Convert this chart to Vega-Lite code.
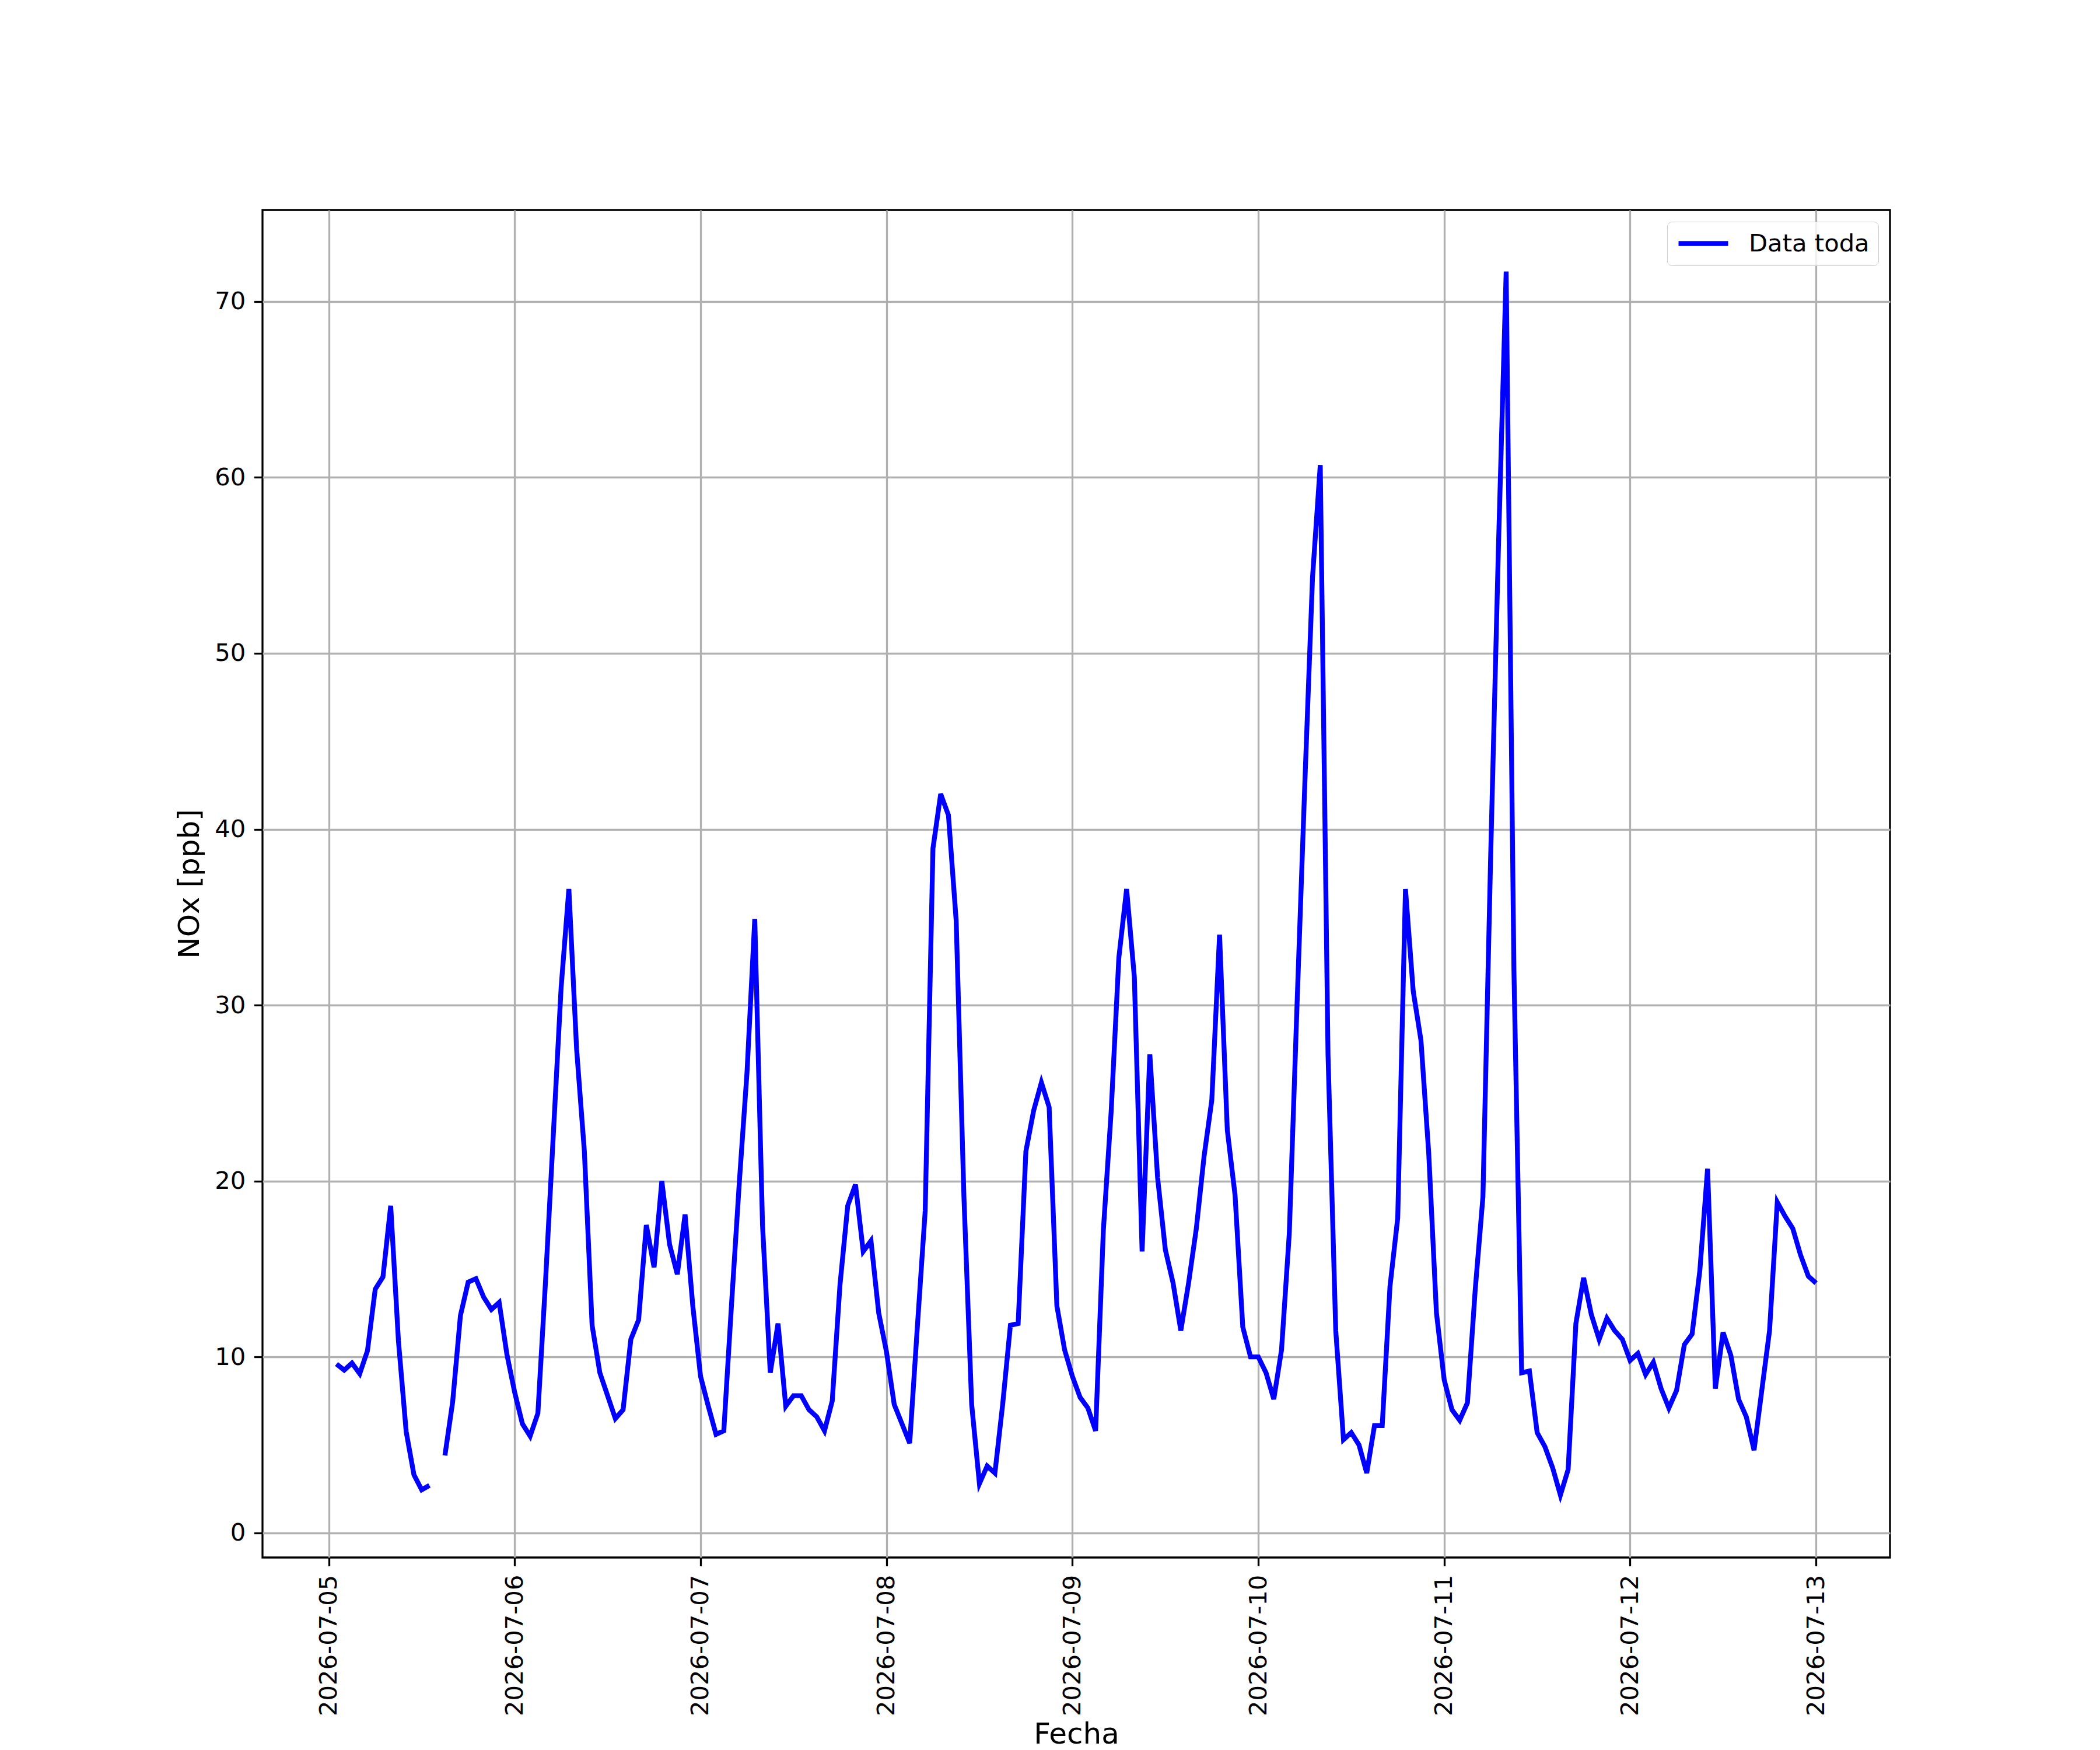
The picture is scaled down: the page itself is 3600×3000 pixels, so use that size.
{
  "$schema": "https://vega.github.io/schema/vega-lite/v6.json",
  "width": 2790,
  "height": 2310,
  "autosize": {"type": "none"},
  "padding": {"left": 450, "top": 360, "right": 360, "bottom": 330},
  "background": "white",
  "data": {"values": [
    {"t":"2026-07-05T01:00:00","v":9.6},{"t":"2026-07-05T02:00:00","v":9.25},{"t":"2026-07-05T03:00:00","v":9.65},{"t":"2026-07-05T04:00:00","v":9.05},{"t":"2026-07-05T05:00:00","v":10.35},{"t":"2026-07-05T06:00:00","v":13.85},{"t":"2026-07-05T07:00:00","v":14.55},{"t":"2026-07-05T08:00:00","v":18.6},{"t":"2026-07-05T09:00:00","v":10.9},{"t":"2026-07-05T10:00:00","v":5.75},{"t":"2026-07-05T11:00:00","v":3.3},{"t":"2026-07-05T12:00:00","v":2.45},{"t":"2026-07-05T13:00:00","v":2.7},{"t":"2026-07-05T14:00:00","v":null},{"t":"2026-07-05T15:00:00","v":4.4},{"t":"2026-07-05T16:00:00","v":7.45},{"t":"2026-07-05T17:00:00","v":12.35},{"t":"2026-07-05T18:00:00","v":14.25},{"t":"2026-07-05T19:00:00","v":14.45},{"t":"2026-07-05T20:00:00","v":13.4},{"t":"2026-07-05T21:00:00","v":12.7},{"t":"2026-07-05T22:00:00","v":13.1},{"t":"2026-07-05T23:00:00","v":10.15},
    {"t":"2026-07-06T00:00:00","v":8.0},{"t":"2026-07-06T01:00:00","v":6.2},{"t":"2026-07-06T02:00:00","v":5.5},{"t":"2026-07-06T03:00:00","v":6.8},{"t":"2026-07-06T04:00:00","v":14.4},{"t":"2026-07-06T05:00:00","v":22.7},{"t":"2026-07-06T06:00:00","v":31.0},{"t":"2026-07-06T07:00:00","v":36.6},{"t":"2026-07-06T08:00:00","v":27.5},{"t":"2026-07-06T09:00:00","v":21.7},{"t":"2026-07-06T10:00:00","v":11.8},{"t":"2026-07-06T11:00:00","v":9.1},{"t":"2026-07-06T12:00:00","v":7.8},{"t":"2026-07-06T13:00:00","v":6.5},{"t":"2026-07-06T14:00:00","v":7.0},{"t":"2026-07-06T15:00:00","v":11.0},{"t":"2026-07-06T16:00:00","v":12.1},{"t":"2026-07-06T17:00:00","v":17.5},{"t":"2026-07-06T18:00:00","v":15.1},{"t":"2026-07-06T19:00:00","v":20.0},{"t":"2026-07-06T20:00:00","v":16.4},{"t":"2026-07-06T21:00:00","v":14.7},{"t":"2026-07-06T22:00:00","v":18.1},{"t":"2026-07-06T23:00:00","v":12.9},
    {"t":"2026-07-07T00:00:00","v":8.9},{"t":"2026-07-07T01:00:00","v":7.2},{"t":"2026-07-07T02:00:00","v":5.6},{"t":"2026-07-07T03:00:00","v":5.8},{"t":"2026-07-07T04:00:00","v":13.0},{"t":"2026-07-07T05:00:00","v":19.9},{"t":"2026-07-07T06:00:00","v":26.2},{"t":"2026-07-07T07:00:00","v":34.9},{"t":"2026-07-07T08:00:00","v":17.5},{"t":"2026-07-07T09:00:00","v":9.1},{"t":"2026-07-07T10:00:00","v":11.9},{"t":"2026-07-07T11:00:00","v":7.2},{"t":"2026-07-07T12:00:00","v":7.8},{"t":"2026-07-07T13:00:00","v":7.8},{"t":"2026-07-07T14:00:00","v":7.0},{"t":"2026-07-07T15:00:00","v":6.6},{"t":"2026-07-07T16:00:00","v":5.8},{"t":"2026-07-07T17:00:00","v":7.5},{"t":"2026-07-07T18:00:00","v":14.1},{"t":"2026-07-07T19:00:00","v":18.6},{"t":"2026-07-07T20:00:00","v":19.8},{"t":"2026-07-07T21:00:00","v":16.0},{"t":"2026-07-07T22:00:00","v":16.6},{"t":"2026-07-07T23:00:00","v":12.5},
    {"t":"2026-07-08T00:00:00","v":10.3},{"t":"2026-07-08T01:00:00","v":7.3},{"t":"2026-07-08T02:00:00","v":6.2},{"t":"2026-07-08T03:00:00","v":5.1},{"t":"2026-07-08T04:00:00","v":11.8},{"t":"2026-07-08T05:00:00","v":18.3},{"t":"2026-07-08T06:00:00","v":38.9},{"t":"2026-07-08T07:00:00","v":42.0},{"t":"2026-07-08T08:00:00","v":40.8},{"t":"2026-07-08T09:00:00","v":34.8},{"t":"2026-07-08T10:00:00","v":19.1},{"t":"2026-07-08T11:00:00","v":7.3},{"t":"2026-07-08T12:00:00","v":2.8},{"t":"2026-07-08T13:00:00","v":3.8},{"t":"2026-07-08T14:00:00","v":3.4},{"t":"2026-07-08T15:00:00","v":7.3},{"t":"2026-07-08T16:00:00","v":11.8},{"t":"2026-07-08T17:00:00","v":11.9},{"t":"2026-07-08T18:00:00","v":21.7},{"t":"2026-07-08T19:00:00","v":24.0},{"t":"2026-07-08T20:00:00","v":25.6},{"t":"2026-07-08T21:00:00","v":24.2},{"t":"2026-07-08T22:00:00","v":12.9},{"t":"2026-07-08T23:00:00","v":10.4},
    {"t":"2026-07-09T00:00:00","v":8.9},{"t":"2026-07-09T01:00:00","v":7.7},{"t":"2026-07-09T02:00:00","v":7.1},{"t":"2026-07-09T03:00:00","v":5.8},{"t":"2026-07-09T04:00:00","v":17.2},{"t":"2026-07-09T05:00:00","v":23.9},{"t":"2026-07-09T06:00:00","v":32.7},{"t":"2026-07-09T07:00:00","v":36.6},{"t":"2026-07-09T08:00:00","v":31.6},{"t":"2026-07-09T09:00:00","v":16.0},{"t":"2026-07-09T10:00:00","v":27.2},{"t":"2026-07-09T11:00:00","v":20.2},{"t":"2026-07-09T12:00:00","v":16.1},{"t":"2026-07-09T13:00:00","v":14.2},{"t":"2026-07-09T14:00:00","v":11.5},{"t":"2026-07-09T15:00:00","v":14.2},{"t":"2026-07-09T16:00:00","v":17.3},{"t":"2026-07-09T17:00:00","v":21.4},{"t":"2026-07-09T18:00:00","v":24.6},{"t":"2026-07-09T19:00:00","v":34.0},{"t":"2026-07-09T20:00:00","v":22.9},{"t":"2026-07-09T21:00:00","v":19.2},{"t":"2026-07-09T22:00:00","v":11.7},{"t":"2026-07-09T23:00:00","v":10.0},
    {"t":"2026-07-10T00:00:00","v":10.0},{"t":"2026-07-10T01:00:00","v":9.1},{"t":"2026-07-10T02:00:00","v":7.6},{"t":"2026-07-10T03:00:00","v":10.4},{"t":"2026-07-10T04:00:00","v":17.0},{"t":"2026-07-10T05:00:00","v":30.0},{"t":"2026-07-10T06:00:00","v":42.5},{"t":"2026-07-10T07:00:00","v":54.3},{"t":"2026-07-10T08:00:00","v":60.7},{"t":"2026-07-10T09:00:00","v":27.2},{"t":"2026-07-10T10:00:00","v":11.5},{"t":"2026-07-10T11:00:00","v":5.3},{"t":"2026-07-10T12:00:00","v":5.7},{"t":"2026-07-10T13:00:00","v":5.0},{"t":"2026-07-10T14:00:00","v":3.4},{"t":"2026-07-10T15:00:00","v":6.1},{"t":"2026-07-10T16:00:00","v":6.1},{"t":"2026-07-10T17:00:00","v":14.0},{"t":"2026-07-10T18:00:00","v":17.9},{"t":"2026-07-10T19:00:00","v":36.6},{"t":"2026-07-10T20:00:00","v":30.8},{"t":"2026-07-10T21:00:00","v":28.0},{"t":"2026-07-10T22:00:00","v":21.6},{"t":"2026-07-10T23:00:00","v":12.5},
    {"t":"2026-07-11T00:00:00","v":8.7},{"t":"2026-07-11T01:00:00","v":7.0},{"t":"2026-07-11T02:00:00","v":6.4},{"t":"2026-07-11T03:00:00","v":7.4},{"t":"2026-07-11T04:00:00","v":13.8},{"t":"2026-07-11T05:00:00","v":19.1},{"t":"2026-07-11T06:00:00","v":38.5},{"t":"2026-07-11T07:00:00","v":56.0},{"t":"2026-07-11T08:00:00","v":71.7},{"t":"2026-07-11T09:00:00","v":32.0},{"t":"2026-07-11T10:00:00","v":9.1},{"t":"2026-07-11T11:00:00","v":9.2},{"t":"2026-07-11T12:00:00","v":5.7},{"t":"2026-07-11T13:00:00","v":4.9},{"t":"2026-07-11T14:00:00","v":3.7},{"t":"2026-07-11T15:00:00","v":2.15},{"t":"2026-07-11T16:00:00","v":3.6},{"t":"2026-07-11T17:00:00","v":11.9},{"t":"2026-07-11T18:00:00","v":14.5},{"t":"2026-07-11T19:00:00","v":12.4},{"t":"2026-07-11T20:00:00","v":11.0},{"t":"2026-07-11T21:00:00","v":12.2},{"t":"2026-07-11T22:00:00","v":11.5},{"t":"2026-07-11T23:00:00","v":11.0},
    {"t":"2026-07-12T00:00:00","v":9.8},{"t":"2026-07-12T01:00:00","v":10.2},{"t":"2026-07-12T02:00:00","v":9.0},{"t":"2026-07-12T03:00:00","v":9.7},{"t":"2026-07-12T04:00:00","v":8.2},{"t":"2026-07-12T05:00:00","v":7.1},{"t":"2026-07-12T06:00:00","v":8.1},{"t":"2026-07-12T07:00:00","v":10.7},{"t":"2026-07-12T08:00:00","v":11.3},{"t":"2026-07-12T09:00:00","v":14.9},{"t":"2026-07-12T10:00:00","v":20.7},{"t":"2026-07-12T11:00:00","v":8.2},{"t":"2026-07-12T12:00:00","v":11.4},{"t":"2026-07-12T13:00:00","v":10.1},{"t":"2026-07-12T14:00:00","v":7.6},{"t":"2026-07-12T15:00:00","v":6.6},{"t":"2026-07-12T16:00:00","v":4.7},{"t":"2026-07-12T17:00:00","v":8.1},{"t":"2026-07-12T18:00:00","v":11.5},{"t":"2026-07-12T19:00:00","v":18.8},{"t":"2026-07-12T20:00:00","v":18.0},{"t":"2026-07-12T21:00:00","v":17.3},{"t":"2026-07-12T22:00:00","v":15.8},{"t":"2026-07-12T23:00:00","v":14.6},
    {"t":"2026-07-13T00:00:00","v":14.2}
  ]},
  "mark": {"type": "line", "strokeWidth": 8.3, "invalid": "break-paths-show-domains"},
  "encoding": {
    "x": {
      "field": "t", "type": "temporal",
      "scale": {"domain": [{"year":2026,"month":7,"date":4,"hours":15,"minutes":27},{"year":2026,"month":7,"date":13,"hours":9,"minutes":33}], "nice": false},
      "axis": {
        "title": "Fecha",
        "values": [{"year":2026,"month":7,"date":5},{"year":2026,"month":7,"date":6},{"year":2026,"month":7,"date":7},{"year":2026,"month":7,"date":8},{"year":2026,"month":7,"date":9},{"year":2026,"month":7,"date":10},{"year":2026,"month":7,"date":11},{"year":2026,"month":7,"date":12},{"year":2026,"month":7,"date":13}],
        "format": "%Y-%m-%d",
        "labelAngle": 270,
        "titleY": 318,
        "titleBaseline": "alphabetic"
      }
    },
    "y": {
      "field": "v", "type": "quantitative",
      "scale": {"domain": [-1.4, 75.2], "nice": false, "zero": false},
      "axis": {"title": "NOx [ppb]", "values": [0,10,20,30,40,50,60,70], "titlePadding": 17}
    },
    "color": {
      "datum": "Data toda", "type": "nominal",
      "scale": {"range": ["#0000ff"]},
      "legend": {
        "title": null, "orient": "top-right", "offset": 20,
        "symbolType": "stroke", "symbolSize": 7225, "symbolStrokeWidth": 8.3, "clipHeight": 45,
        "labelFontSize": 41.7, "labelFont": "DejaVu Sans", "labelColor": "black", "labelOffset": 31, "labelLimit": 0,
        "padding": 15, "cornerRadius": 8, "strokeColor": "#cccccc", "fillColor": "rgba(255,255,255,0.8)"
      }
    }
  },
  "config": {
    "font": "DejaVu Sans",
    "view": {"stroke": "black", "strokeWidth": 3.3},
    "axis": {
      "domain": false,
      "grid": true, "gridColor": "#b0b0b0", "gridWidth": 3.3,
      "ticks": true, "tickColor": "black", "tickSize": 14.6, "tickWidth": 3.3,
      "labelFont": "DejaVu Sans", "labelFontSize": 41.7, "labelColor": "black", "labelPadding": 14.6,
      "labelOverlap": false, "labelFlush": false, "labelLimit": 0,
      "titleFont": "DejaVu Sans", "titleFontSize": 50, "titleFontWeight": "normal", "titleColor": "black"
    }
  }
}
